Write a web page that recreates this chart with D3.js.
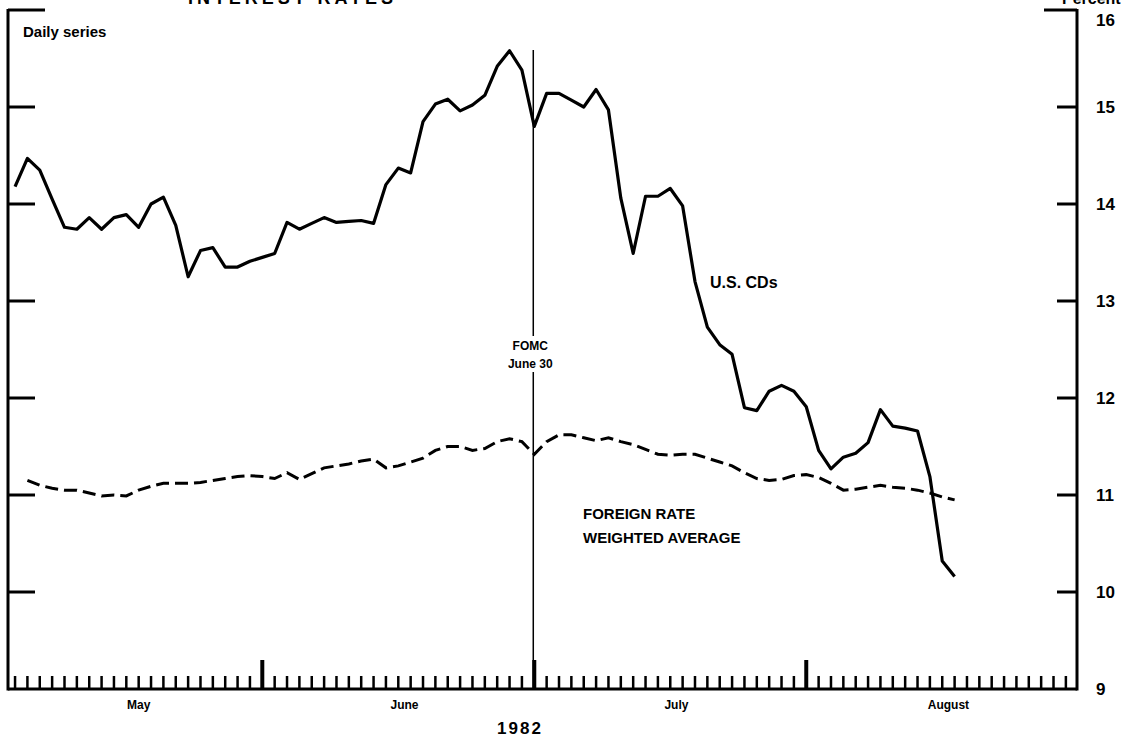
<!DOCTYPE html>
<head>
<meta charset="utf-8">
<style>
body { margin: 0; background: #fff; }
svg { display: block; }
text { font-family: "Liberation Sans", Arial, sans-serif; fill: #000; }
</style>
</head>
<body>
<script src="https://cdnjs.cloudflare.com/ajax/libs/d3/7.8.5/d3.min.js"></script>
<script>

// business days, May 3 1982 = index 0
var monthNames = ['May', 'June', 'July', 'August'];
var monthEnds  = [20, 42, 64, 86];   // last business day of each month
var yTicks     = [16, 15, 14, 13, 12, 11, 10, 9];

var usCDs = [
  14.18, 14.47, 14.35, 14.05, 13.76, 13.74, 13.86, 13.74, 13.86, 13.89,
  13.76, 14.00, 14.07, 13.78, 13.25, 13.52, 13.55, 13.35, 13.35, 13.41,
  13.45, 13.49, 13.81, 13.74, 13.80, 13.86, 13.81, 13.82, 13.83, 13.80,
  14.20, 14.37, 14.32, 14.85, 15.03, 15.08, 14.96, 15.02, 15.12, 15.42,
  15.58, 15.38, 14.80, 15.14, 15.14, 15.07, 15.00, 15.18, 14.97, 14.06,
  13.49, 14.08, 14.08, 14.16, 13.98, 13.20, 12.73, 12.55, 12.45, 11.90,
  11.87, 12.07, 12.13, 12.07, 11.91, 11.46, 11.27, 11.39, 11.43, 11.54,
  11.88, 11.71, 11.69, 11.66, 11.19, 10.32, 10.16
];

var foreign = [
  null,  11.15, 11.10, 11.07, 11.05, 11.05, 11.02, 10.99, 11.00, 10.99,
  11.05, 11.09, 11.12, 11.12, 11.12, 11.13, 11.15, 11.17, 11.19, 11.20,
  11.19, 11.17, 11.23, 11.16, 11.22, 11.28, 11.30, 11.32, 11.35, 11.37,
  11.28, 11.30, 11.34, 11.38, 11.46, 11.50, 11.50, 11.46, 11.48, 11.55,
  11.58, 11.55, 11.42, 11.55, 11.62, 11.62, 11.59, 11.56, 11.59, 11.55,
  11.52, 11.47, 11.42, 11.41, 11.42, 11.42, 11.38, 11.34, 11.30, 11.23,
  11.17, 11.15, 11.16, 11.20, 11.21, 11.18, 11.12, 11.05, 11.06, 11.08,
  11.10, 11.08, 11.07, 11.05, 11.02, 10.98, 10.95
];

var fomcDay = 42;

var width = 1126,
    height = 739;

var x = d3.scaleLinear().domain([-0.57, 85.9]).range([8, 1077]);
var y = d3.scaleLinear().domain([9, 16]).range([689, 10]);

var svg = d3.select('body').append('svg')
    .attr('width', width)
    .attr('height', height);

// title and unit label, cut off at the top edge as in the original
svg.append('text')
    .attr('x', 188).attr('y', 4)
    .attr('textLength', 205).attr('lengthAdjust', 'spacing')
    .style('font-size', '18px').style('font-weight', 'bold')
    .text('INTEREST RATES');
svg.append('text')
    .attr('x', 1062).attr('y', 4)
    .style('font-size', '16px').style('font-weight', 'bold')
    .text('Percent');

// frame: left, right, bottom
var frame = svg.append('g')
    .attr('stroke', '#000')
    .attr('stroke-width', 3)
    .attr('fill', 'none');

frame.append('line').attr('x1', x.range()[0]).attr('x2', x.range()[0]).attr('y1', y(16) - 1).attr('y2', y(9) + 1.5);
frame.append('line').attr('x1', x.range()[1]).attr('x2', x.range()[1]).attr('y1', y(16) - 1).attr('y2', y(9) + 1.5);
frame.append('line').attr('x1', x.range()[0]).attr('x2', x.range()[1]).attr('y1', y(9)).attr('y2', y(9));

// y ticks on both sides
yTicks.filter(function(v) { return v > 9; }).forEach(function(v) {
  var top = v === 16;
  frame.append('line')
      .attr('x1', x.range()[0]).attr('x2', x.range()[0] + (top ? 37 : 27))
      .attr('y1', y(v)).attr('y2', y(v));
  frame.append('line')
      .attr('x1', x.range()[1]).attr('x2', x.range()[1] - (top ? 33 : 20))
      .attr('y1', y(v)).attr('y2', y(v));
});

svg.append('g').selectAll('text')
    .data(yTicks)
  .enter().append('text')
    .attr('x', 1096)
    .attr('y', function(d) { return d === 16 ? y(d) + 10 : y(d); })
    .attr('dy', '0.35em')
    .style('font-size', '17px')
    .style('font-weight', 'bold')
    .text(function(d) { return d; });

// daily ticks along the bottom
var days = d3.range(0, 86);
svg.append('g').selectAll('line')
    .data(days)
  .enter().append('line')
    .attr('x1', function(d) { return x(d); })
    .attr('x2', function(d) { return x(d); })
    .attr('y1', y(9))
    .attr('y2', function(d) { return monthEnds.indexOf(d) >= 0 ? y(9) - 29 : y(9) - 13; })
    .attr('stroke', '#000')
    .attr('stroke-width', function(d) { return monthEnds.indexOf(d) >= 0 ? 4 : 2.5; });

svg.append('g').selectAll('text')
    .data(monthNames)
  .enter().append('text')
    .attr('x', function(d, i) {
      var start = i === 0 ? 0 : monthEnds[i - 1] + 1;
      return x((start + monthEnds[i]) / 2);
    })
    .attr('y', 709)
    .attr('text-anchor', 'middle')
    .style('font-size', '12px')
    .style('font-weight', 'bold')
    .text(function(d) { return d; });

svg.append('text')
    .attr('x', 520).attr('y', 734)
    .attr('text-anchor', 'middle')
    .style('font-size', '17px').style('font-weight', 'bold')
    .style('letter-spacing', '2px')
    .text('1982');

// FOMC marker
svg.append('line')
    .attr('x1', x(fomcDay) - 1).attr('x2', x(fomcDay) - 1)
    .attr('y1', 50).attr('y2', y(9))
    .attr('stroke', '#000').attr('stroke-width', 1.5);
svg.append('rect')
    .attr('x', 500).attr('y', 336).attr('width', 58).attr('height', 36)
    .attr('fill', '#fff');
svg.append('text')
    .attr('x', x(fomcDay) - 4).attr('y', 350)
    .attr('text-anchor', 'middle')
    .style('font-size', '12px').style('font-weight', 'bold')
    .text('FOMC');
svg.append('text')
    .attr('x', x(fomcDay) - 4).attr('y', 368)
    .attr('text-anchor', 'middle')
    .style('font-size', '12px').style('font-weight', 'bold')
    .text('June 30');

// series
var line = d3.line()
    .defined(function(d) { return d != null; })
    .x(function(d, i) { return x(i); })
    .y(function(d) { return y(d); });

svg.append('path')
    .datum(foreign)
    .attr('d', line)
    .attr('fill', 'none')
    .attr('stroke', '#000')
    .attr('stroke-width', 3)
    .attr('stroke-dasharray', '13,6');

svg.append('path')
    .datum(usCDs)
    .attr('d', line)
    .attr('fill', 'none')
    .attr('stroke', '#000')
    .attr('stroke-width', 3.2)
    .attr('stroke-linejoin', 'round');

// labels
svg.append('text')
    .attr('x', 23).attr('y', 37)
    .style('font-size', '15px').style('font-weight', 'bold')
    .text('Daily series');
svg.append('text')
    .attr('x', 710).attr('y', 288)
    .style('font-size', '16px').style('font-weight', 'bold')
    .text('U.S. CDs');
svg.append('text')
    .attr('x', 583).attr('y', 519)
    .style('font-size', '15px').style('font-weight', 'bold')
    .text('FOREIGN RATE');
svg.append('text')
    .attr('x', 583).attr('y', 543)
    .style('font-size', '15px').style('font-weight', 'bold')
    .text('WEIGHTED AVERAGE');

</script>
</body>
</html>
